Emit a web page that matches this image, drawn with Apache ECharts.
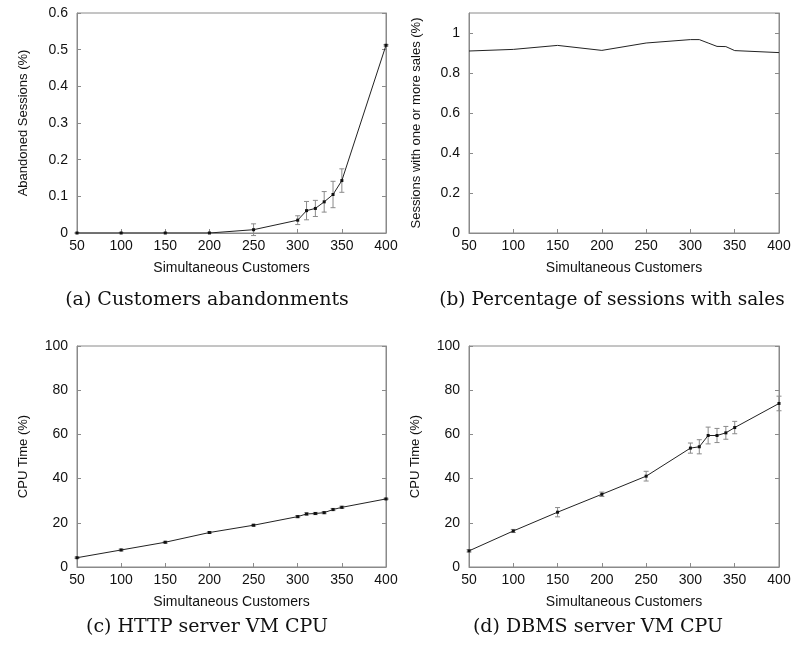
<!DOCTYPE html>
<html><head><meta charset="utf-8">
<script src="https://cdn.jsdelivr.net/npm/echarts@6/dist/echarts.min.js"></script>
<style>html,body{margin:0;padding:0;background:#fff}#c{width:795px;height:649px}</style>
</head><body><div id="c"></div>
<script>
var customers = [50, 100, 150, 200, 250, 300, 310, 320, 330, 340, 350, 400];
var abandoned = [0, 0, 0, 0, 0.009, 0.035, 0.061, 0.067, 0.085, 0.105, 0.143, 0.512];
var abandonedErr = [0, 0, 0, 0, 0.016, 0.012, 0.025, 0.022, 0.028, 0.036, 0.032, 0.002];
var salesSessions = [0.91, 0.918, 0.938, 0.913, 0.95, 0.967, 0.967, 0.95, 0.933, 0.932, 0.912, 0.902];
var httpCpu = [4.2, 7.7, 11.2, 15.6, 18.9, 22.8, 24.0, 24.2, 24.6, 26.0, 27.0, 30.8];
var httpErr = [0.3, 0.4, 0.4, 0.4, 0.4, 0.5, 0.5, 0.5, 0.5, 0.5, 0.5, 0.3];
var dbmsCpu = [7.3, 16.3, 24.8, 32.9, 41.1, 53.8, 54.4, 59.5, 59.5, 60.7, 63.1, 74.0];
var dbmsErr = [0.5, 0.7, 2.1, 1.0, 2.2, 2.3, 3.2, 3.8, 3.2, 2.9, 2.8, 3.3];
var xTicks = {min: 50, max: 400, interval: 50};
var captions = ['(a) Customers abandonments', '(b) Percentage of sessions with sales', '(c) HTTP server VM CPU', '(d) DBMS server VM CPU'];
var yNames = ['Abandoned Sessions (%)', 'Sessions with one or more sales (%)', 'CPU Time (%)', 'CPU Time (%)'];
var xName = 'Simultaneous Customers';

var grids = [
  {left: 77, top: 13, width: 309, height: 220},
  {left: 469, top: 13, width: 310, height: 220},
  {left: 77, top: 346, width: 309, height: 221},
  {left: 469, top: 346, width: 310, height: 221}
];
var yScales = [
  {min: 0, max: 0.6, interval: 0.1},
  {min: 0, max: 1.1, interval: 0.2},
  {min: 0, max: 100, interval: 20},
  {min: 0, max: 100, interval: 20}
];
var values = [abandoned, salesSessions, httpCpu, dbmsCpu];
var errs = [abandonedErr, null, httpErr, dbmsErr];
var gray = '#8a8a8a';
var font = 'Liberation Sans';

function fmt(v){ return String(Math.round(v*1000)/1000); }

var option = {animation: false, backgroundColor: '#fff', grid: [], xAxis: [], yAxis: [], series: [], graphic: []};
grids.forEach(function(g, i){
  option.grid.push(Object.assign({show: true, borderColor: gray, borderWidth: 1, backgroundColor: 'transparent'}, g));
  option.xAxis.push({type: 'value', gridIndex: i, min: xTicks.min, max: xTicks.max, interval: xTicks.interval,
    name: xName, nameLocation: 'middle', nameGap: 28,
    nameTextStyle: {fontFamily: font, fontSize: 14, color: '#111'},
    axisLine: {lineStyle: {color: gray}}, axisTick: {inside: true, length: 4, lineStyle: {color: gray}},
    splitLine: {show: false},
    axisLabel: {fontFamily: font, fontSize: 14, color: '#111', margin: 6}});
  var ys = yScales[i];
  option.yAxis.push({type: 'value', gridIndex: i, min: ys.min, max: ys.max, interval: ys.interval,
    name: yNames[i], nameLocation: 'middle', nameGap: i === 1 ? 46 : 47,
    nameTextStyle: {fontFamily: font, fontSize: 13, color: '#111'},
    axisLine: {lineStyle: {color: gray}}, axisTick: {inside: true, length: 4, lineStyle: {color: gray}},
    splitLine: {show: false},
    axisLabel: {fontFamily: font, fontSize: 14, color: '#111', margin: 9, showMaxLabel: i !== 1, formatter: fmt}});
  option.yAxis.push({type: 'value', gridIndex: i, position: 'right', min: ys.min, max: ys.max, interval: ys.interval,
    axisLine: {show: true, lineStyle: {color: gray}}, axisTick: {show: true, inside: true, length: 4, lineStyle: {color: gray}},
    splitLine: {show: false}, axisLabel: {show: false}});
  var yIdx = i*2;
  var data = customers.map(function(x, k){ return [x, values[i][k]]; });
  option.series.push({type: 'line', xAxisIndex: i, yAxisIndex: yIdx, data: data,
    showSymbol: i !== 1, symbol: 'rect', symbolSize: 3,
    lineStyle: {color: '#222', width: 1}, itemStyle: {color: '#111'}, z: 3});
  if (errs[i]) {
    var e = errs[i];
    var edata = customers.map(function(x, k){ return [x, values[i][k] - e[k], values[i][k] + e[k]]; });
    option.series.push({type: 'custom', xAxisIndex: i, yAxisIndex: yIdx, data: edata, z: 2,
      renderItem: function(params, api){
        var lo = api.coord([api.value(0), api.value(1)]);
        var hi = api.coord([api.value(0), api.value(2)]);
        var w = 2.5;
        var st = {stroke: '#8a8a8a', lineWidth: 1};
        return {type: 'group', children: [
          {type: 'line', shape: {x1: lo[0], y1: lo[1], x2: hi[0], y2: hi[1]}, style: st},
          {type: 'line', shape: {x1: lo[0]-w, y1: lo[1], x2: lo[0]+w, y2: lo[1]}, style: st},
          {type: 'line', shape: {x1: hi[0]-w, y1: hi[1], x2: hi[0]+w, y2: hi[1]}, style: st}
        ]};
      }});
  }
});
var capPos = [[207, 300], [612, 300], [207, 627], [598, 627]];
captions.forEach(function(t, i){
  option.graphic.push({type: 'text', x: capPos[i][0], y: capPos[i][1],
    style: {text: t, fontFamily: 'DejaVu Serif', fontSize: i === 1 ? 18.5 : 19, fill: '#111', align: 'center', verticalAlign: 'middle'}});
});
var chart = echarts.init(document.getElementById('c'));
chart.setOption(option);
</script></body></html>
